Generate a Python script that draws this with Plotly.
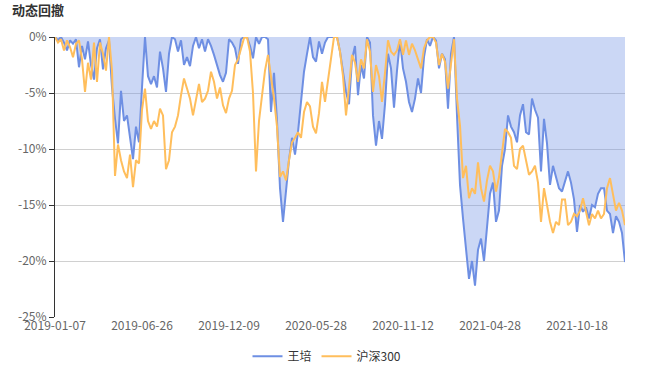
import plotly.graph_objects as go

# Sample index along the trading-day category axis
TICK_INDEX = [0, 29, 58, 87, 116, 145, 174]
TICK_LABELS = ["2019-01-07", "2019-06-26", "2019-12-09", "2020-05-28",
               "2020-11-12", "2021-04-28", "2021-10-18"]

# Drawdown (%) of 王培
wang_pei = [
    0, -0.3, 0, -0.5, -1.2, -0.3, -0.6, -0.2, -2.7, -0.8,
    -2.0, -0.4, -2.5, -3.8, -1.0, -0.2, -2.9, -1.0, -0.3, -4.5,
    -7.3, -9.5, -4.8, -7.5, -7.0, -9.0, -10.9, -8.0, -9.4, -4.5,
    0, -3.5, -4.2, -3.5, -4.5, -1.3, -2.8, -4.9, -1.5, 0,
    -0.2, -1.3, -0.3, -2.5, -1.8, -2.6, -0.8, 0, -1.0, -0.2,
    -1.3, -0.2, -0.8, -1.6, -2.5, -3.4, -4.0, -3.2, -0.2, -0.5,
    -1.0, -2.4, -0.2, 0, 0, -0.8, -1.9, 0, -0.6, 0,
    0, -0.2, -6.7, -3.2, -7.5, -13.5, -16.5, -13.5, -11.0, -9.0,
    -10.5, -8.5, -6.0, -3.1, -1.5, 0, -1.8, -2.2, -0.4, -1.5,
    -0.5, 0, 0, 0, 0, -1.3, -3.1, -4.9, -6.0, -2.0,
    -0.8, -5.2, -2.5, -3.7, 0, -0.5, -7.0, -9.7, -7.5, -9.1,
    -6.0, -1.5, -2.8, -6.3, -3.0, -0.3, -2.8, -4.0, -5.8, -6.7,
    -5.5, -3.7, -5.0, -1.8, -0.2, -0.8, 0, -0.3, -2.8, -1.5,
    -2.0, -6.4, -1.5, 0, -7.0, -13.2, -16.2, -18.6, -21.6, -20.0,
    -22.2, -19.0, -18.0, -20.0, -17.0, -14.0, -13.0, -16.5, -15.5, -11.5,
    -10.0, -7.0, -8.0, -8.5, -9.4, -7.0, -6.0, -8.5, -8.7, -5.5,
    -6.5, -7.2, -12.0, -7.3, -9.5, -13.2, -11.5, -12.5, -13.5, -13.8,
    -12.8, -12.0, -13.0, -14.5, -17.4, -15.0, -15.6, -15.2, -16.2, -15.0,
    -15.2, -14.0, -13.5, -13.5, -15.5, -15.8, -17.5, -16.0, -16.5, -17.5,
    -20.1,
]

# Drawdown (%) of 沪深300
hs300 = [
    0, -0.5, -0.2, -1.2, -0.3, -0.9, -1.8, -0.6, -0.3, -2.0,
    -4.9, -2.3, -3.8, -0.5, -4.0, -0.5, -1.5, -3.0, 0, -3.0,
    -12.4, -9.6, -11.0, -12.0, -12.6, -10.5, -13.4, -11.0, -11.3, -6.5,
    -4.6, -7.5, -8.2, -7.5, -8.0, -6.4, -7.0, -11.8, -11.0, -8.5,
    -8.0, -7.0, -5.2, -3.7, -4.6, -5.5, -7.0, -5.5, -4.2, -5.8,
    -5.5, -4.8, -3.1, -4.0, -5.5, -4.5, -6.1, -6.8, -5.5, -4.8,
    -2.5, -2.0, -1.0, -0.1, 0, -1.3, -5.0, -12.0, -7.5, -5.5,
    -3.0, -1.6, -3.5, -5.5, -8.0, -12.5, -12.0, -12.8, -11.0, -9.4,
    -9.0, -8.5, -9.0, -6.7, -5.8, -6.2, -8.0, -8.6, -6.8, -4.0,
    -5.8, -3.8, -1.8, 0, 0, -1.3, -3.5, -7.0, -4.5, -1.6,
    -2.3, -4.0, -2.0, -2.8, -0.2, -1.3, -4.9, -2.5, -3.5, -5.8,
    -3.2, -0.3, -1.3, -1.6, -1.2, -0.2, -1.6, -0.3, -1.6, -0.6,
    -1.2, -2.0, -2.8, -1.0, -0.3, 0, 0, -0.5, -2.5, -1.5,
    -2.2, -4.6, -2.4, -0.2, -5.5, -7.9, -12.6, -11.5, -14.4, -13.5,
    -14.0, -11.2, -13.5, -14.7, -12.8, -11.5, -12.0, -13.8, -12.5, -10.5,
    -8.2, -8.5, -9.0, -11.5, -11.8, -10.0, -9.7, -11.0, -12.3, -12.0,
    -11.5, -13.0, -16.5, -13.5, -15.0, -16.5, -17.5, -16.5, -16.8, -14.5,
    -14.5, -16.8, -16.5, -15.8, -16.0, -15.5, -14.4, -15.5, -16.8, -15.8,
    -16.2, -15.5, -16.2, -15.8, -13.5, -12.6, -14.2, -15.5, -14.8, -15.5,
    -16.8,
]

Y_TICKS = [0, -5, -10, -15, -20, -25]
Y_LABELS = ["0%", "-5%", "-10%", "-15%", "-20%", "-25%"]

idx = list(range(len(wang_pei)))
FONT = "Noto Sans CJK SC, Microsoft YaHei, sans-serif"

fig = go.Figure()
# area under 王培 (fill only)
fig.add_trace(go.Scatter(
    x=idx, y=wang_pei, name="王培", mode="lines", showlegend=False,
    line=dict(color="rgba(0,0,0,0)", width=0),
    fill="tozeroy", fillcolor="rgba(110,143,227,0.36)", hoverinfo="skip",
))
fig.add_trace(go.Scatter(
    x=idx, y=wang_pei, name="王培", mode="lines",
    line=dict(color="#6E8FE3", width=2),
))
fig.add_trace(go.Scatter(
    x=idx, y=hs300, name="沪深300", mode="lines",
    line=dict(color="#FFBE5C", width=2),
))

fig.update_layout(
    width=654, height=377,
    margin=dict(l=55, r=29, t=37, b=60, autoexpand=False),
    paper_bgcolor="white", plot_bgcolor="white",
    font=dict(family=FONT, size=12, color="#666"),
    title=dict(text="<b>动态回撤</b>", x=0, xref="paper", xanchor="left",
               y=1, yref="container", yanchor="top",
               pad=dict(l=-43, t=6),
               font=dict(family=FONT, size=13, color="#333")),
    showlegend=True,
    legend=dict(orientation="h", xref="container", x=0.5, xanchor="center",
                yref="container", y=0.055, yanchor="middle",
                font=dict(family=FONT, size=12, color="#333"),
                itemwidth=30),
    xaxis=dict(
        range=[0, len(idx) - 1], tickmode="array",
        tickvals=TICK_INDEX, ticktext=TICK_LABELS, automargin=False,
        showgrid=False, zeroline=False, showline=False, ticks="",
        tickfont=dict(color="#666", size=12),
    ),
    xaxis2=dict(
        overlaying="x", matches="x", side="top", anchor="y", automargin=False,
        tickmode="array", tickvals=TICK_INDEX, ticks="inside", ticklen=5,
        tickcolor="#6E7079", showticklabels=False, showline=True,
        linecolor="#6E7079", linewidth=1, showgrid=False, zeroline=False,
    ),
    yaxis=dict(
        range=[-25, 0], tickmode="array", tickvals=Y_TICKS, ticktext=Y_LABELS,
        showgrid=True, gridcolor="#d0d0d0", gridwidth=1, zeroline=False,
        showline=True, linecolor="#333", linewidth=1, automargin=False,
        ticks="outside", ticklen=5, tickcolor="#333",
        tickfont=dict(color="#666", size=12),
    ),
)

fig.write_html("out.html", config={"displayModeBar": False},
               post_script="document.body.style.margin='0';")
